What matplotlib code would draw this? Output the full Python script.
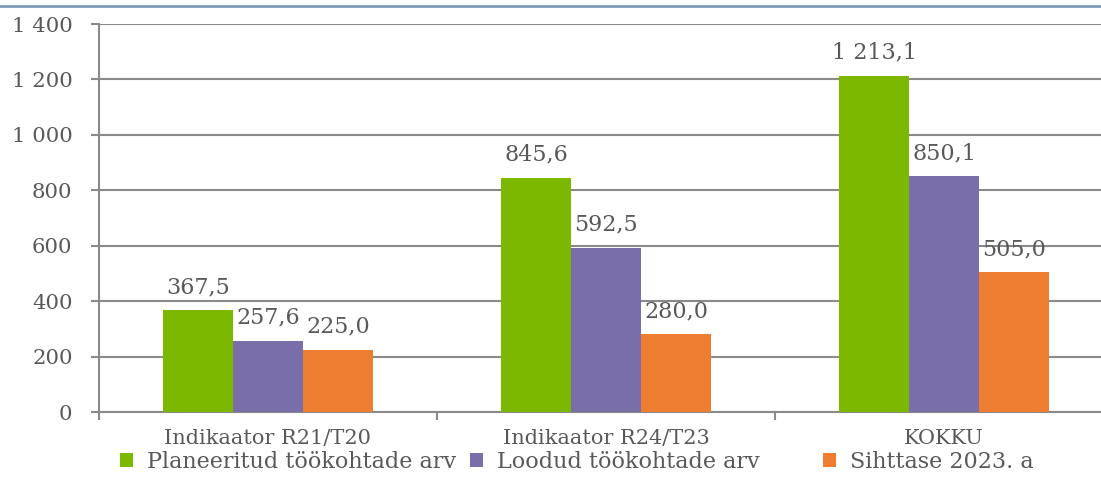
import numpy as np
import matplotlib.pyplot as plt
from matplotlib.lines import Line2D

categories = ["Indikaator R21/T20", "Indikaator R24/T23", "KOKKU"]
series_names = ["Planeeritud töökohtade arv", "Loodud töökohtade arv", "Sihttase 2023. a"]
planeeritud = [367.5, 845.6, 1213.1]
loodud = [257.6, 592.5, 850.1]
sihttase = [225.0, 280.0, 505.0]
yticks = [0, 200, 400, 600, 800, 1000, 1200, 1400]

colors = ["#7CB800", "#7A6EAA", "#ED7D31"]
text_color = "#595959"
grid_color = "#8A8A8A"

plt.rcParams["font.family"] = ["DejaVu Serif"]


def fmt(v, decimals=1):
    s = f"{v:,.{decimals}f}"
    return s.replace(",", " ").replace(".", ",")


fig = plt.figure(figsize=(11.01, 4.94), dpi=100)
ax = fig.add_axes([99 / 1101, 1 - 412 / 494, (1113 - 99) / 1101, (412 - 24) / 494])

x = np.arange(len(categories))
width = 0.207
handles = []
for i, (vals, name) in enumerate(zip([planeeritud, loodud, sihttase], series_names)):
    pos = x + (i - 1) * width
    bars = ax.bar(pos, vals, width, color=colors[i], label=name, zorder=3)
    handles.append(bars)
    for b, v in zip(bars, vals):
        ax.annotate(fmt(v), (b.get_x() + b.get_width() / 2, v), xytext=(0, 17),
                    textcoords="offset pixels", ha="center", va="baseline",
                    fontsize=16, color=text_color, zorder=4)

ax.set_xlim(-0.5, len(categories) - 0.5)
ax.set_ylim(0, 1400)
ax.set_yticks(yticks)
ax.set_yticklabels([fmt(t, 0) for t in yticks])
ax.yaxis.grid(True, color=grid_color, linewidth=1.5, zorder=0)

ax.set_xticks(x)
ax.set_xticklabels(categories)
ax.set_xticks(np.arange(len(categories) + 1) - 0.5, minor=True)
ax.tick_params(axis="x", which="major", length=0, pad=12.5, labelsize=15, labelcolor=text_color)
ax.tick_params(axis="x", which="minor", length=6, width=1.5, color=grid_color, direction="out")
ax.tick_params(axis="y", length=6, width=1.5, color=grid_color, pad=13, labelsize=15.3,
               labelcolor=text_color)

for s in ["top", "right"]:
    ax.spines[s].set_visible(False)
for s in ["left", "bottom"]:
    ax.spines[s].set_color(grid_color)
    ax.spines[s].set_linewidth(1.5)

# legend entries placed individually, like the original
legend_x = [120 / 1101, 470 / 1101, 823 / 1101]
for h, name, lx in zip(handles, series_names, legend_x):
    leg = fig.legend([h], [name], loc="center left", bbox_to_anchor=(lx, 1 - 462 / 494),
                     frameon=False, fontsize=16, labelcolor=text_color,
                     handlelength=0.6, handleheight=0.6, handletextpad=0.62,
                     borderpad=0, borderaxespad=0)

fig.add_artist(Line2D([0, 1], [1 - 6 / 494, 1 - 6 / 494], transform=fig.transFigure,
                      color="#7F9AB5", linewidth=2))

fig.savefig("out.png", dpi=100)
